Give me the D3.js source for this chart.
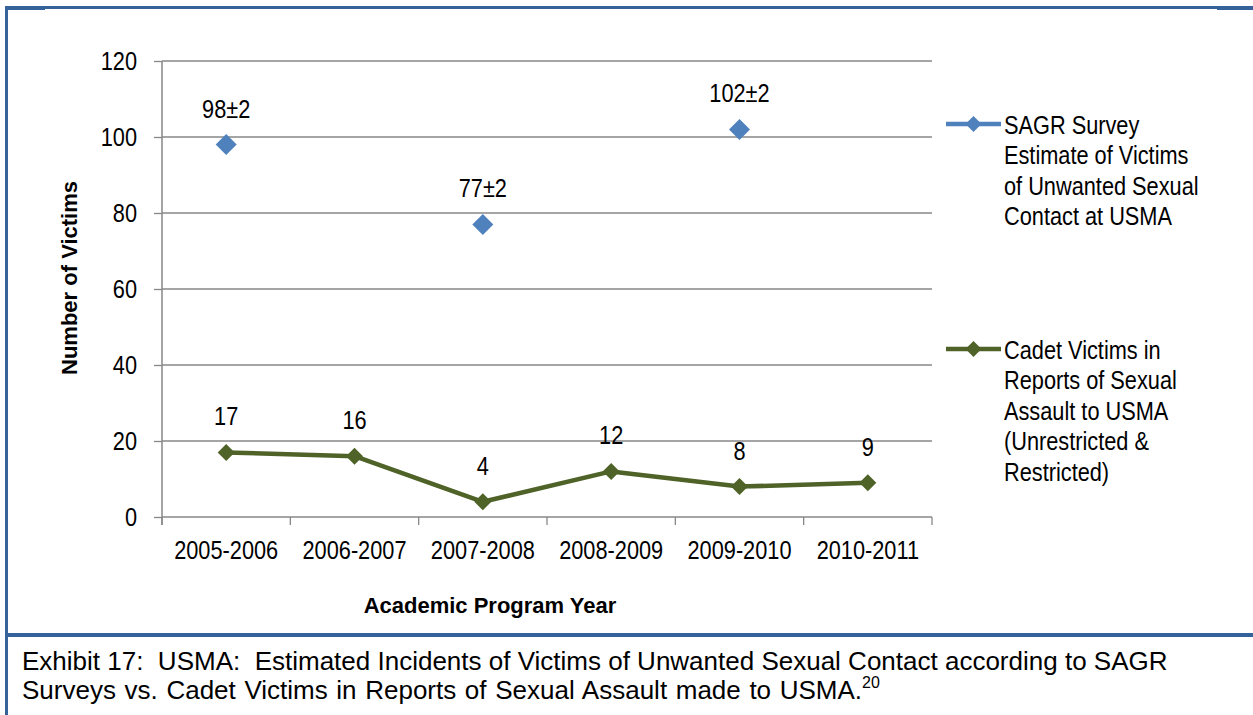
<!DOCTYPE html>
<html>
<head>
<meta charset="utf-8">
<script src="https://cdn.jsdelivr.net/npm/d3@7"></script>
<style>
  body { margin: 0; background: #fff; }
  svg { display: block; }
  .chart text { font-family: "Liberation Sans", Arial, sans-serif; fill: #000; }
  .title { font-weight: bold; }
  .caption { font-family: "Liberation Sans", Arial, sans-serif; fill: #000; white-space: pre; }
</style>
</head>
<body>
<svg width="1253" height="715"></svg>
<script>
// data
var years = ['2005-2006', '2006-2007', '2007-2008', '2008-2009', '2009-2010', '2010-2011'];
var sagr = [98, null, 77, null, 102, null];
var sagrLabels = ['98±2', '', '77±2', '', '102±2', ''];
var cadet = [17, 16, 4, 12, 8, 9];
var yTicks = [0, 20, 40, 60, 80, 100, 120];
var legendSagr = ['SAGR Survey', 'Estimate of Victims', 'of Unwanted Sexual', 'Contact at USMA'];
var legendCadet = ['Cadet Victims in', 'Reports of Sexual', 'Assault to USMA', '(Unrestricted &', 'Restricted)'];

var blue = '#4f81bd', green = '#4f6228', border = '#35629a', grid = '#878787';

var svg = d3.select('svg');

// no Arial Narrow here, so squeeze the regular face
var NARROW = 0.87;
function narrow(sel) {
    sel.each(function () {
        var t = d3.select(this);
        var x0 = +t.attr('x') || 0, y0 = +t.attr('y') || 0;
        t.attr('x', null).attr('y', null)
            .attr('transform', 'translate(' + x0 + ',' + y0 + ') scale(' + NARROW + ',1)');
    });
}

// page frame
svg.append('rect').attr('x', 5).attr('y', 6).attr('width', 1248).attr('height', 3).attr('fill', border);
svg.append('rect').attr('x', 5).attr('y', 6).attr('width', 3).attr('height', 709).attr('fill', border);
svg.append('rect').attr('x', 8).attr('y', 9).attr('width', 37).attr('height', 1).attr('fill', border);
svg.append('rect').attr('x', 1217).attr('y', 9).attr('width', 36).attr('height', 1).attr('fill', border);
svg.append('rect').attr('x', 5).attr('y', 633).attr('width', 1248).attr('height', 4).attr('fill', border);

var L = 162, R = 932, T = 61, B = 517;

var x = d3.scaleBand().domain(years).range([L, R]);
var xi = d3.scaleLinear().domain([0, years.length]).range([L, R]);
var y = d3.scaleLinear().domain([0, 120]).range([B, T]);

var chart = svg.append('g').attr('class', 'chart');

// gridlines
chart.append('g').selectAll('line').data(yTicks).enter().append('line')
    .attr('x1', L).attr('x2', R)
    .attr('y1', function (d) { return y(d); })
    .attr('y2', function (d) { return y(d); })
    .attr('stroke', grid).attr('stroke-width', 1.3);

// y axis
var yAxis = d3.axisLeft(y).tickValues(yTicks).tickSize(8).tickPadding(17);
var gy = chart.append('g').attr('transform', 'translate(' + L + ',0)').call(yAxis);
gy.select('.domain').remove();
gy.selectAll('.tick line').attr('stroke', grid).attr('stroke-width', 1.3);
gy.selectAll('.tick text').style('font-size', '25px').call(narrow);
chart.append('line').attr('x1', L).attr('x2', L).attr('y1', T).attr('y2', B + 8)
    .attr('stroke', grid).attr('stroke-width', 1.5);

// x axis: labels at band centres, ticks at band edges
var xAxis = d3.axisBottom(x).tickSize(0).tickPadding(24);
var gx = chart.append('g').attr('transform', 'translate(0,' + B + ')').call(xAxis);
gx.select('.domain').remove();
gx.selectAll('.tick text').style('font-size', '25px').call(narrow);
chart.append('g').selectAll('line').data(d3.range(years.length + 1)).enter().append('line')
    .attr('x1', function (d) { return xi(d); })
    .attr('x2', function (d) { return xi(d); })
    .attr('y1', B).attr('y2', B + 8)
    .attr('stroke', grid).attr('stroke-width', 1.3);

function diamond(sel, cx, cy, r, color) {
    sel.append('path')
        .attr('d', 'M' + cx + ',' + (cy - r) + 'L' + (cx + r) + ',' + cy + 'L' + cx + ',' + (cy + r) + 'L' + (cx - r) + ',' + cy + 'Z')
        .attr('fill', color);
}

// cadet line
var cx = function (d, i) { return x(years[i]) + x.bandwidth() / 2; };
var line = d3.line().x(cx).y(function (d) { return y(d); });
chart.append('path').datum(cadet).attr('d', line)
    .attr('fill', 'none').attr('stroke', green).attr('stroke-width', 4.5).attr('stroke-linejoin', 'round');
cadet.forEach(function (d, i) {
    diamond(chart, cx(d, i), y(d), 8.5, green);
    chart.append('text').attr('x', cx(d, i)).attr('y', y(d) - 27)
        .attr('text-anchor', 'middle').style('font-size', '25px').text(d).call(narrow);
});

// sagr points
sagr.forEach(function (d, i) {
    if (d === null) return;
    diamond(chart, cx(d, i), y(d), 10.5, blue);
    chart.append('text').attr('x', cx(d, i)).attr('y', y(d) - 27)
        .attr('text-anchor', 'middle').style('font-size', '25px').text(sagrLabels[i]).call(narrow);
});

// axis titles
chart.append('text').attr('class', 'title')
    .attr('transform', 'translate(77,278) rotate(-90)')
    .attr('text-anchor', 'middle').style('font-size', '22px').text('Number of Victims');
chart.append('text').attr('class', 'title')
    .attr('x', (L + R) / 2 - 57).attr('y', 613)
    .attr('text-anchor', 'middle').style('font-size', '22px').text('Academic Program Year');

// legend
function legend(top, lines, color, r) {
    var g = chart.append('g');
    g.append('line').attr('x1', 946).attr('x2', 1001).attr('y1', top).attr('y2', top)
        .attr('stroke', color).attr('stroke-width', 4.5);
    diamond(g, 973.5, top, r, color);
    g.selectAll('text').data(lines).enter().append('text')
        .attr('x', 1004).attr('y', function (d, i) { return top + 10 + i * 30.4; })
        .style('font-size', '25px').text(function (d) { return d; }).call(narrow);
}
legend(124, legendSagr, blue, 8);
legend(349, legendCadet, green, 8);

// caption
var cap = svg.append('text').attr('class', 'caption').style('font-size', '26px');
cap.append('tspan').attr('x', 22).attr('y', 670)
    .text('Exhibit 17:  USMA:  Estimated Incidents of Victims of Unwanted Sexual Contact according to SAGR');
cap.append('tspan').attr('x', 22).attr('y', 699).style('word-spacing', '1.4px')
    .text('Surveys vs. Cadet Victims in Reports of Sexual Assault made to USMA.');
cap.append('tspan').attr('dy', -11).style('font-size', '16px').text('20');
</script>
</body>
</html>
